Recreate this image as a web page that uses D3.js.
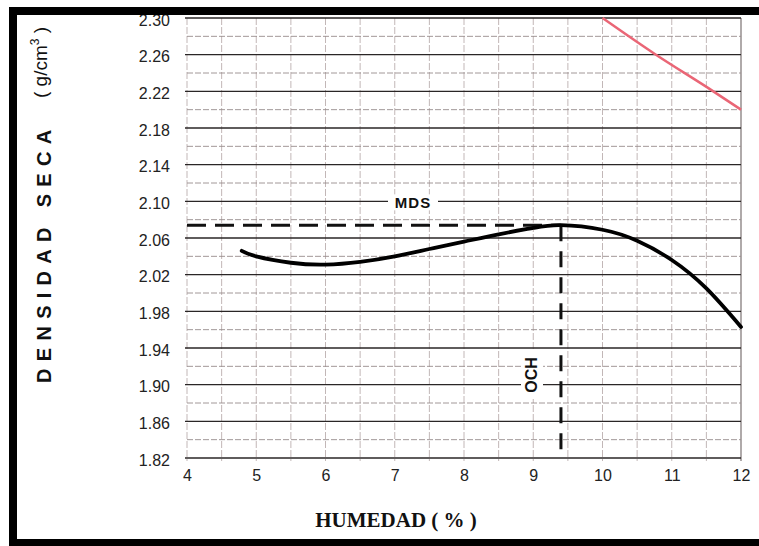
<!DOCTYPE html>
<html>
<head>
<meta charset="utf-8">
<script src="https://cdn.jsdelivr.net/npm/d3@7/dist/d3.min.js"></script>
<style>
  html, body { margin: 0; padding: 0; background: #fff; }
  svg { display: block; }
</style>
</head>
<body>
<svg id="chart" width="759" height="546"></svg>
<script>
// Compaction curve: moisture content (%) vs dry density (g/cm3)
const moisture = [4.79, 5.0, 5.5, 6.0, 6.5, 7.0, 7.5, 8.0, 8.5, 9.0, 9.4, 10.0, 10.5, 11.0, 11.5, 12.0];
const density  = [2.046, 2.040, 2.033, 2.031, 2.034, 2.040, 2.048, 2.056, 2.064, 2.071, 2.074, 2.069, 2.057, 2.036, 2.005, 1.963];

// Zero-air-voids (saturation) line
const zavMoisture = [10.0, 10.75, 11.6, 12.0];
const zavDensity  = [2.300, 2.261, 2.220, 2.200];

// Optimum point
const optMoisture = 9.4;   // OCH
const maxDensity  = 2.074; // MDS

const xTicks = [4, 5, 6, 7, 8, 9, 10, 11, 12];
const yTicks = [1.82, 1.86, 1.90, 1.94, 1.98, 2.02, 2.06, 2.10, 2.14, 2.18, 2.22, 2.26, 2.30];

const svg = d3.select("#chart");
const x = d3.scaleLinear().domain([4, 12]).range([187, 741]);
const y = d3.scaleLinear().domain([1.82, 2.30]).range([458, 18]);

svg.append("rect").attr("width", 759).attr("height", 546).attr("fill", "#fff");

// ---- grid paper ----
const grid = svg.append("g");
const halfSteps = d3.range(4, 12.001, 0.5);
grid.selectAll("line.v").data(halfSteps).join("line")
  .attr("x1", d => x(d)).attr("x2", d => x(d))
  .attr("y1", y(2.30)).attr("y2", y(1.82) + 3)
  .attr("stroke", d => d === 12 ? "#6e6464" : "#b3a4a4")
  .attr("stroke-width", d => d === 12 ? 1.1 : 0.8)
  .attr("stroke-dasharray", d => d === 12 ? null : "7,2");

const minorY = yTicks.slice(0, -1).map(v => v + 0.02);
grid.selectAll("line.hm").data(minorY).join("line")
  .attr("x1", x(4)).attr("x2", x(12))
  .attr("y1", d => y(d)).attr("y2", d => y(d))
  .attr("stroke", "#978c8c").attr("stroke-width", 0.9)
  .attr("stroke-dasharray", "6,2");

grid.selectAll("line.h").data(yTicks).join("line")
  .attr("x1", x(4) - 2).attr("x2", x(12))
  .attr("y1", d => y(d)).attr("y2", d => y(d))
  .attr("stroke", "#2a2626").attr("stroke-width", 1.4);

// ---- axes (labels only) ----
const yAxis = d3.axisLeft(y).tickValues(yTicks).tickFormat(d3.format(".2f")).tickSize(0).tickPadding(17);
const gy = svg.append("g").attr("transform", `translate(${x(4)},2)`).call(yAxis);
gy.select(".domain").remove();
gy.selectAll("text").attr("font-family", "Liberation Sans, Arial, sans-serif")
  .attr("font-size", 16).attr("fill", "#222");

const xAxis = d3.axisBottom(x).tickValues(xTicks).tickFormat(d3.format("d")).tickSize(0).tickPadding(12);
const gx = svg.append("g").attr("transform", `translate(0,${y(1.82)})`).call(xAxis);
gx.select(".domain").remove();
gx.selectAll("text").attr("font-family", "Liberation Sans, Arial, sans-serif")
  .attr("font-size", 16).attr("fill", "#222");

// ---- zero-air-voids line ----
svg.append("path")
  .datum(d3.zip(zavMoisture, zavDensity))
  .attr("d", d3.line().x(d => x(d[0])).y(d => y(d[1])).curve(d3.curveMonotoneX))
  .attr("fill", "none").attr("stroke", "#ea6676").attr("stroke-width", 2.5);

// ---- reference lines for the optimum ----
svg.append("line")
  .attr("x1", x(4)).attr("x2", x(optMoisture))
  .attr("y1", y(maxDensity)).attr("y2", y(maxDensity))
  .attr("stroke", "#111").attr("stroke-width", 3)
  .attr("stroke-dasharray", "19,9");
svg.append("line")
  .attr("x1", x(optMoisture)).attr("x2", x(optMoisture))
  .attr("y1", y(maxDensity)).attr("y2", y(1.82))
  .attr("stroke", "#111").attr("stroke-width", 3)
  .attr("stroke-dasharray", "16,10");

// ---- compaction curve ----
svg.append("path")
  .datum(d3.zip(moisture, density))
  .attr("d", d3.line().x(d => x(d[0])).y(d => y(d[1])).curve(d3.curveNatural))
  .attr("fill", "none").attr("stroke", "#000").attr("stroke-width", 3.8)
  .attr("stroke-linecap", "round");

// ---- MDS / OCH labels ----
const mdsX = 413, mdsY = y(2.10) + 1;
svg.append("rect").attr("x", mdsX - 25).attr("y", mdsY - 8).attr("width", 50).attr("height", 16).attr("fill", "#fff");
svg.append("text").attr("x", mdsX).attr("y", mdsY).attr("dy", "0.36em")
  .attr("text-anchor", "middle").attr("font-family", "Liberation Sans, Arial, sans-serif")
  .attr("font-weight", "bold").attr("font-size", 15).attr("letter-spacing", 1).attr("fill", "#111")
  .text("MDS");

const ochX = 531, ochY = 375;
svg.append("rect").attr("x", ochX - 10).attr("y", ochY - 24).attr("width", 22).attr("height", 48).attr("fill", "#fff");
svg.append("text").attr("transform", `translate(${ochX},${ochY}) rotate(-90)`).attr("dy", "0.36em")
  .attr("text-anchor", "middle").attr("font-family", "Liberation Sans, Arial, sans-serif")
  .attr("font-weight", "bold").attr("font-size", 16).attr("fill", "#111")
  .text("OCH");

// ---- axis titles ----
svg.append("text").attr("transform", "translate(51,383) rotate(-90)")
  .attr("font-family", "Liberation Sans, Arial, sans-serif").attr("font-weight", "bold")
  .attr("font-size", 20).attr("letter-spacing", 7.3).attr("fill", "#111")
  .text("DENSIDAD SECA");
const units = svg.append("text").attr("transform", "translate(47,98) rotate(-90)")
  .attr("font-family", "Liberation Sans, Arial, sans-serif")
  .attr("font-size", 19).attr("fill", "#111");
units.append("tspan").text("( g/cm");
units.append("tspan").attr("font-size", 12).attr("dy", -8).text("3");
units.append("tspan").attr("dy", 8).text(" )");

svg.append("text").attr("x", 396).attr("y", 527)
  .attr("text-anchor", "middle").attr("font-family", "Liberation Serif, Times New Roman, serif")
  .attr("font-weight", "bold").attr("font-size", 21).attr("fill", "#111")
  .text("HUMEDAD ( % )");

// ---- black frame ----
svg.append("rect").attr("x", 13).attr("y", 11).attr("width", 800).attr("height", 532)
  .attr("fill", "none").attr("stroke", "#000").attr("stroke-width", 8);
</script>
</body>
</html>
